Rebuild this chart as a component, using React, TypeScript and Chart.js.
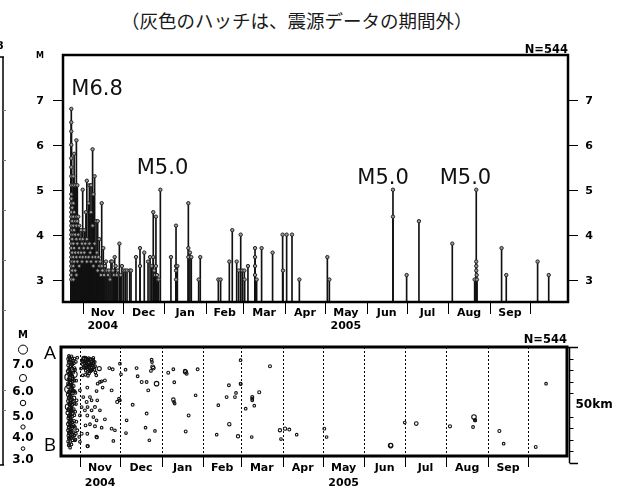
import React, { useEffect, useRef } from 'react';
import { Chart, registerables } from 'chart.js';

Chart.register(...registerables);

// ---------------- data ----------------
// Time is counted in days from 2004-10-23 (day 0, the M6.8 main shock).
const monthStartDays = [9, 39, 70, 101, 129, 160, 190, 221, 251, 282, 313, 343];
const monthLabels = ['Nov', 'Dec', 'Jan', 'Feb', 'Mar', 'Apr', 'May', 'Jun', 'Jul', 'Aug', 'Sep'];
const yearLabels = ['2004', '2005'];
const yearLabelMonthIndex = [0, 6];
const magTicks = [3, 4, 5, 6, 7];
const legendMags = [7, 6, 5, 4, 3];
const legendLabels = ['7.0', '6.0', '5.0', '4.0', '3.0'];
const kmTicks = [0, 5, 10, 15, 20, 25, 30, 35, 40, 45, 50];
const eventCount = 544;
const titleText = '（灰色のハッチは、震源データの期間外）';

const annotationTexts = ['M6.8', 'M5.0', 'M5.0', 'M5.0'];
const annotationDays = [19.7, 68.6, 233.3, 294.8];
const annotationMags = [7.12, 5.35, 5.13, 5.13];

// M-T diagram events [day, magnitude]
const mtFirstWeeks: number[][] = [
  [0.5, 6.8], [0.5, 6.5], [0.5, 6.3], [0.5, 6.0], [0.5, 5.7], [0.5, 5.5], [0.5, 5.3], [0.5, 5.1], [0.5, 4.9], [0.5, 4.8],
  [0.5, 4.7], [0.5, 4.6], [0.5, 4.5], [0.5, 4.4], [0.5, 4.3], [0.5, 4.2], [0.5, 4.1], [0.5, 4.0], [0.5, 3.9], [0.5, 3.8],
  [0.5, 3.7], [0.5, 3.6], [0.5, 3.5], [0.5, 3.4], [0.5, 3.3], [0.5, 3.2], [0.5, 3.1], [0.5, 3.0],
  [1.2, 4.6], [1.2, 4.3], [1.2, 4.1], [1.2, 3.9], [1.2, 3.6], [1.2, 3.4], [1.2, 3.2],
  [2.0, 5.3], [2.0, 5.1], [2.0, 4.7], [2.0, 4.4], [2.0, 4.2], [2.0, 4.0], [2.0, 3.8], [2.0, 3.5], [2.0, 3.3], [2.0, 3.0],
  [2.6, 5.8], [2.6, 4.5], [2.6, 4.1], [2.6, 3.7], [2.6, 3.4],
  [3.4, 5.1], [3.4, 4.3], [3.4, 4.0], [3.4, 3.6], [3.4, 3.2],
  [4.3, 6.1], [4.3, 4.4], [4.3, 4.2], [4.3, 3.9], [4.3, 3.5], [4.3, 3.1],
  [5.0, 5.1], [5.0, 4.3], [5.0, 3.8], [5.0, 3.4],
  [5.7, 4.4], [5.7, 4.0], [5.7, 3.6],
  [6.4, 4.2], [6.4, 3.7], [6.4, 3.3],
  [7.1, 3.9], [7.1, 3.5], [7.8, 4.1], [7.8, 3.6], [8.5, 3.8], [8.5, 3.4],
  [9.0, 5.0], [9.0, 3.9], [9.0, 3.5], [9.7, 3.7], [10.2, 4.1], [10.2, 3.6], [10.9, 3.8],
  [11.4, 4.5], [11.4, 3.5], [12.1, 5.2], [12.1, 3.9], [12.1, 3.4], [12.8, 3.7],
  [13.4, 4.7], [13.4, 3.5], [14.0, 5.1], [14.0, 3.8], [14.6, 3.6],
  [15.2, 5.1], [15.2, 4.5], [15.2, 3.4], [15.8, 3.7],
  [16.4, 5.9], [16.4, 4.2], [16.4, 3.5], [17.0, 4.9], [17.0, 3.3],
  [17.9, 5.3], [17.9, 3.8], [18.5, 3.5], [19.0, 4.3], [19.0, 3.4], [19.6, 3.6],
  [20.2, 4.3], [20.2, 3.2], [20.8, 3.5], [21.4, 3.9], [21.4, 3.3], [22.0, 3.4], [22.6, 3.1],
  [23.2, 4.7], [23.2, 3.3], [23.8, 3.2], [24.4, 3.7], [25.0, 3.1], [25.7, 3.3], [26.4, 3.4],
  [27.1, 3.2], [27.9, 3.1], [28.6, 3.2], [29.4, 3.0], [30.1, 3.4], [30.9, 3.4], [31.6, 3.2],
  [32.3, 3.1], [32.9, 3.5], [33.6, 3.3], [34.4, 3.1], [35.2, 3.2], [36.4, 3.8], [37.4, 3.1],
  [38.3, 3.3], [39.6, 3.2], [40.8, 3.2], [42.1, 3.2], [44.1, 3.2], [45.1, 3.2],
];

const mtWinter: number[][] = [
  [48.8, 3.5], [51.8, 3.7], [51.8, 3.3], [55.0, 3.6], [57.8, 3.4], [59.3, 3.5], [60.5, 3.3],
  [61.7, 4.5], [61.7, 3.5], [62.4, 3.2], [63.0, 3.1], [63.7, 4.4], [63.7, 3.3], [64.5, 3.1],
  [65.2, 3.0], [65.7, 3.0], [67.0, 5.0], [74.9, 3.5], [78.7, 4.2], [78.7, 3.3], [78.7, 3.2],
  [78.7, 3.0], [79.7, 3.3], [87.9, 4.7], [87.9, 3.7], [87.9, 3.5], [89.1, 3.6], [90.1, 3.5],
  [95.6, 3.0], [96.8, 3.5], [110.3, 3.0], [112.0, 3.0], [118.5, 3.4], [120.7, 4.1], [124.0, 3.4],
  [125.5, 3.2], [127.0, 4.0], [128.2, 3.2], [129.7, 3.2], [129.9, 3.0], [132.4, 3.3],
  [137.7, 3.7], [137.7, 3.5], [137.7, 3.3], [137.7, 3.1], [138.9, 3.0], [142.6, 3.7],
  [150.8, 3.6], [158.3, 4.0], [158.6, 3.2], [161.3, 4.0], [165.3, 4.0], [170.8, 3.0],
];

const mtSummer: number[][] = [
  [191.7, 3.5], [193.2, 3.0], [240.7, 5.0], [240.7, 4.4], [250.9, 3.1], [260.1, 4.3],
  [285.0, 3.8], [301.7, 3.0], [302.9, 5.0], [302.9, 3.4], [302.9, 3.3], [302.9, 3.2],
  [303.2, 3.1], [303.4, 3.0], [321.8, 3.7], [325.3, 3.1], [348.7, 3.4], [357.0, 3.1],
];

// Space-time events [day, distance from B (km), magnitude]
const stFirstDays: number[][] = [
  [0.2, 44.8, 3.4], [0.3, 42.1, 3.7], [0.1, 39.6, 4.1], [0.4, 37.0, 6.5], [0.2, 34.3, 3.5],
  [0.5, 31.8, 6.8], [0.3, 29.4, 4.4], [0.1, 26.7, 3.6], [0.4, 24.2, 6.0], [0.2, 21.6, 4.8],
  [0.5, 19.3, 3.9], [0.3, 16.8, 4.2], [0.1, 14.1, 3.3], [0.4, 11.7, 3.5], [0.2, 9.3, 3.2],
  [1.1, 45.6, 3.2], [1.3, 43.2, 3.9], [1.0, 40.8, 3.4], [1.4, 38.3, 4.6], [1.2, 35.7, 3.8],
  [1.0, 33.1, 5.3], [1.3, 30.6, 3.6], [1.1, 28.2, 4.0], [1.4, 25.5, 3.4], [1.2, 23.1, 5.1],
  [1.0, 20.4, 3.7], [1.3, 18.1, 3.5], [1.1, 15.6, 4.3], [1.4, 13.0, 3.3], [1.2, 10.4, 3.6], [1.0, 8.2, 3.1],
  [2.1, 44.3, 3.5], [2.3, 41.9, 4.2], [2.0, 39.3, 3.3], [2.4, 36.8, 5.8], [2.2, 34.6, 3.7],
  [2.1, 32.0, 4.5], [2.3, 29.7, 3.4], [2.0, 27.1, 3.9], [2.4, 24.6, 3.3], [2.2, 22.2, 4.1],
  [2.1, 19.6, 3.6], [2.3, 17.0, 3.2], [2.0, 14.6, 3.8], [2.2, 12.1, 3.4],
  [3.2, 45.1, 3.3], [3.4, 42.6, 3.6], [3.1, 40.1, 5.1], [3.3, 37.4, 3.4], [3.5, 35.0, 3.9],
  [3.2, 32.4, 3.5], [3.4, 30.1, 4.3], [3.1, 27.6, 3.3], [3.3, 25.0, 3.7], [3.5, 22.4, 3.4],
  [3.2, 20.0, 3.6], [3.4, 17.6, 3.3], [3.1, 15.0, 3.5], [3.3, 12.4, 3.2], [3.5, 9.8, 3.4],
  [4.4, 43.0, 3.5], [4.6, 38.2, 6.1], [4.3, 33.2, 3.6], [4.5, 28.0, 4.4], [4.4, 23.2, 3.3],
  [4.6, 18.1, 3.8], [4.3, 13.3, 3.4],
  [5.4, 40.2, 3.3], [5.6, 30.3, 3.5], [5.5, 22.1, 3.2], [5.3, 15.2, 3.6], [5.7, 10.1, 3.1],
  [0.6, 7.6, 3.2], [1.7, 6.6, 3.0], [2.7, 8.0, 3.3], [0.8, 46.2, 3.1], [2.8, 46.0, 3.0],
];

const stFirstDaysMore: number[][] = [
  [0.7, 43.5, 3.6], [0.8, 40.2, 3.3], [0.6, 36.1, 3.8], [0.9, 33.8, 3.4], [0.7, 30.5, 4.0],
  [0.6, 27.9, 3.5], [0.9, 25.3, 3.3], [0.8, 22.8, 3.9], [0.7, 20.1, 3.4], [0.9, 17.5, 3.6],
  [0.6, 15.3, 3.3], [0.8, 12.9, 3.7], [0.7, 10.6, 3.2],
  [1.6, 44.7, 3.4], [1.8, 41.4, 3.6], [1.5, 37.6, 3.3], [1.7, 34.9, 4.2], [1.9, 31.4, 3.5],
  [1.6, 29.0, 3.7], [1.8, 26.2, 3.3], [1.5, 23.8, 3.6], [1.7, 21.1, 3.4], [1.9, 18.8, 3.9],
  [1.6, 16.3, 3.2], [1.8, 13.7, 3.5], [1.5, 11.2, 3.3], [1.7, 9.0, 3.4],
  [2.6, 43.4, 3.3], [2.8, 40.7, 3.7], [2.5, 38.0, 3.4], [2.7, 33.4, 3.5], [2.9, 31.0, 3.3],
  [2.6, 26.0, 3.6], [2.8, 23.5, 3.2], [2.5, 18.4, 3.4], [2.7, 15.8, 3.3], [2.9, 13.4, 3.5], [2.6, 10.8, 3.2],
  [3.8, 44.0, 3.2], [3.9, 39.0, 3.5], [3.7, 36.2, 3.3], [3.9, 31.2, 3.6], [3.8, 26.4, 3.4],
  [3.7, 21.2, 3.3], [3.9, 16.4, 3.5], [3.8, 11.4, 3.2],
  [4.9, 45.0, 3.1], [5.0, 40.9, 3.4], [4.8, 35.6, 3.3], [5.0, 30.9, 3.5], [4.9, 25.7, 3.2],
  [4.8, 20.6, 3.4], [5.0, 15.9, 3.3], [4.9, 11.8, 3.2],
  [6.0, 43.6, 3.2], [6.2, 35.5, 3.3], [6.1, 25.4, 3.1], [6.3, 17.8, 3.4], [6.0, 12.6, 3.2],
];

const stNovemberCluster: number[][] = [
  [10.5, 44.0, 3.2], [11.2, 42.5, 3.4], [11.8, 45.0, 3.1], [12.5, 41.0, 3.6], [12.9, 43.6, 3.3],
  [13.4, 39.8, 3.2], [13.9, 44.6, 5.1], [14.3, 42.2, 3.5], [14.8, 40.6, 3.8], [15.2, 43.0, 5.1],
  [15.6, 45.2, 3.2], [16.0, 41.5, 3.4], [16.4, 43.8, 5.9], [16.9, 39.5, 3.3], [17.3, 42.6, 3.6],
  [17.9, 44.2, 5.3], [18.3, 40.4, 3.2], [18.8, 42.9, 3.4], [19.4, 41.3, 3.1], [20.0, 43.5, 3.5],
  [20.6, 39.0, 3.3], [21.2, 37.8, 3.2], [13.0, 38.0, 3.1], [15.8, 38.6, 3.1], [19.0, 45.3, 3.3],
  [12.1, 44.9, 5.2], [14.0, 41.2, 3.3], [17.0, 41.0, 4.9], [15.0, 44.5, 3.3], [16.8, 44.8, 3.2],
  [11.0, 43.9, 3.3], [11.6, 41.2, 3.2], [12.3, 42.9, 3.4], [13.1, 45.4, 3.2], [13.6, 42.0, 3.3],
  [14.2, 43.8, 3.6], [14.6, 39.2, 3.2], [15.4, 41.8, 3.4], [16.2, 42.4, 3.3], [16.6, 40.1, 3.2],
  [17.5, 43.4, 3.4], [17.7, 39.9, 3.1], [18.1, 41.9, 3.3], [18.6, 44.5, 3.2], [19.2, 43.1, 3.5],
  [19.8, 40.2, 3.2], [20.3, 41.7, 3.3], [15.0, 37.6, 3.2],
];

const stNovemberScatter: number[][] = [
  [7.0, 45.4, 3.1], [9.8, 40.7, 3.3], [11.0, 37.8, 3.2], [14.5, 32.5, 3.4], [23.4, 40.7, 4.7],
  [23.9, 34.9, 3.3], [25.2, 35.2, 3.2], [27.6, 35.6, 3.4], [22.2, 34.2, 3.3], [25.9, 32.5, 3.2],
  [32.6, 31.3, 3.5], [21.4, 31.0, 3.3], [16.5, 28.4, 3.4], [17.7, 27.0, 3.2], [14.0, 26.3, 3.5],
  [14.7, 24.1, 3.3], [20.2, 24.1, 3.6], [21.9, 27.0, 3.2], [12.7, 22.7, 3.4], [17.7, 22.7, 3.3],
  [23.9, 22.7, 3.2], [14.5, 20.5, 3.5], [19.0, 19.8, 3.3], [21.4, 18.4, 3.2], [27.6, 18.8, 3.4],
  [16.5, 16.7, 3.3], [20.2, 15.8, 3.6], [25.2, 15.2, 3.2], [32.6, 14.8, 3.4], [35.1, 14.1, 3.1],
  [10.3, 12.6, 3.5], [14.5, 12.6, 3.4], [21.4, 11.2, 3.9], [21.6, 11.0, 3.2], [14.7, 7.3, 3.8],
  [14.8, 7.2, 3.3], [33.9, 9.5, 3.1], [30.9, 40.9, 3.4], [33.4, 40.4, 3.5], [38.1, 27.7, 3.3],
  [36.8, 26.3, 3.8], [38.8, 27.0, 3.2], [9.0, 20.5, 3.3], [10.3, 24.1, 3.2], [6.5, 27.0, 3.4],
  [9.0, 31.3, 3.3], [11.5, 28.4, 3.2], [13.2, 16.2, 3.3], [7.0, 14.1, 3.5], [8.5, 11.2, 3.2],
  [5.3, 9.8, 3.4], [9.0, 9.1, 3.1], [38.8, 42.8, 3.1], [39.6, 38.2, 3.2],
];

const stWinter: number[][] = [
  [43.0, 40.2, 3.2], [51.2, 40.9, 3.5], [52.0, 37.4, 3.3], [55.0, 34.9, 3.6], [58.7, 34.9, 3.4],
  [59.9, 31.3, 3.5], [62.4, 44.5, 3.3], [62.7, 43.5, 3.1], [63.2, 41.4, 4.5], [61.9, 39.7, 3.3],
  [63.7, 40.9, 4.4], [66.1, 34.2, 5.0], [48.3, 25.1, 3.5], [43.8, 18.4, 3.2], [43.3, 12.9, 3.2],
  [58.7, 21.3, 3.4], [57.9, 15.2, 3.2], [64.9, 13.8, 3.1], [60.7, 9.8, 3.0],
  [74.8, 38.9, 3.5], [78.6, 40.4, 3.3], [79.3, 34.8, 3.2], [87.3, 39.7, 3.7], [88.5, 38.5, 3.6],
  [87.6, 39.3, 4.7], [96.7, 40.4, 3.5], [78.6, 27.3, 4.2], [79.1, 26.3, 3.3], [79.6, 25.6, 3.0],
  [90.0, 20.5, 3.5], [95.2, 29.2, 3.0], [87.8, 13.6, 3.5],
  [120.0, 33.5, 3.4], [118.3, 28.4, 3.4], [112.1, 24.9, 3.0], [124.5, 28.4, 3.4], [125.3, 30.2, 3.2],
  [120.3, 16.7, 4.1], [110.9, 12.2, 3.0], [126.8, 11.5, 4.0],
  [128.7, 44.3, 3.2], [128.7, 34.2, 3.3], [128.8, 34.0, 3.2], [137.4, 28.4, 3.7], [137.4, 27.7, 3.5],
  [137.4, 27.0, 3.3], [142.6, 30.5, 3.7], [138.9, 24.7, 3.1], [132.5, 23.4, 3.3], [150.6, 41.7, 3.6],
  [137.0, 11.2, 3.0],
  [158.0, 14.1, 4.0], [161.8, 14.8, 4.0], [165.0, 14.4, 3.6], [170.5, 12.2, 3.0], [158.8, 10.3, 3.2],
];

const stSummer: number[][] = [
  [191.1, 14.8, 3.5], [192.8, 11.2, 3.0], [240.5, 7.5, 5.0], [240.6, 7.6, 4.4], [251.0, 17.4, 3.1],
  [259.6, 17.0, 4.3], [284.7, 15.8, 3.8], [301.9, 15.5, 3.4], [302.6, 19.8, 5.0], [303.4, 18.4, 3.3],
  [303.3, 18.6, 3.2], [303.5, 18.3, 3.0], [321.5, 13.8, 3.7], [324.7, 8.3, 3.1], [348.6, 6.9, 3.4],
  [356.3, 34.2, 3.1],
];

// ---------------- helpers ----------------
const mtEvents = [...mtFirstWeeks, ...mtWinter, ...mtSummer];
const stEvents = [
  ...stFirstDays, ...stFirstDaysMore, ...stNovemberCluster, ...stNovemberScatter, ...stWinter, ...stSummer,
];

const radiusForMag = (m: number) => 1.3 + 0.34 * Math.pow(Math.max(m - 3, 0), 1.5);

const BOLD = '"DejaVu Sans", sans-serif';

function drawMonthAxis(ctx: CanvasRenderingContext2D, xs: any, y0: number, tickLen: number, labelDy: number, yearDy: number) {
  ctx.save();
  ctx.lineWidth = 1;
  ctx.strokeStyle = '#000';
  ctx.setLineDash([]);
  ctx.beginPath();
  monthStartDays.forEach((d) => {
    const px = Math.round(xs.getPixelForValue(d)) + 0.5;
    ctx.moveTo(px, y0);
    ctx.lineTo(px, y0 + tickLen);
  });
  ctx.stroke();
  ctx.fillStyle = '#000';
  ctx.font = `bold 11px ${BOLD}`;
  ctx.textAlign = 'center';
  ctx.textBaseline = 'middle';
  const mid = (i: number) => (xs.getPixelForValue(monthStartDays[i]) + xs.getPixelForValue(monthStartDays[i + 1])) / 2;
  for (let i = 0; i < monthLabels.length; i++) {
    ctx.fillText(monthLabels[i], mid(i), y0 + labelDy);
  }
  for (let i = 0; i < yearLabels.length; i++) {
    ctx.fillText(yearLabels[i], mid(yearLabelMonthIndex[i]), y0 + yearDy);
  }
  ctx.restore();
}

const mtFrame = {
  id: 'mtFrame',
  afterDraw(chart: any) {
    const { ctx, chartArea: a } = chart;
    const xs = chart.scales.x;
    const ys = chart.scales.y;
    ctx.save();
    ctx.strokeStyle = '#000';
    ctx.fillStyle = '#000';
    ctx.lineWidth = 2.5;
    ctx.strokeRect(a.left, a.top, a.right - a.left, a.bottom - a.top);

    ctx.lineWidth = 1;
    ctx.font = `bold 11px ${BOLD}`;
    ctx.textAlign = 'center';
    ctx.textBaseline = 'middle';
    magTicks.forEach((v) => {
      const py = Math.round(ys.getPixelForValue(v)) + 0.5;
      ctx.beginPath();
      ctx.moveTo(a.left - 10, py);
      ctx.lineTo(a.left - 1, py);
      ctx.moveTo(a.right + 1, py);
      ctx.lineTo(a.right + 10, py);
      ctx.stroke();
      ctx.fillText(String(v), a.left - 23, py + 1);
      ctx.fillText(String(v), a.right + 21, py + 1);
    });
    ctx.font = `bold 8px ${BOLD}`;
    ctx.fillText('M', a.left - 23, a.top + 1);

    ctx.font = `bold 11.5px ${BOLD}`;
    ctx.textAlign = 'right';
    ctx.textBaseline = 'alphabetic';
    ctx.fillText('N=' + eventCount, a.right, a.top - 2);

    drawMonthAxis(ctx, xs, a.bottom, 12, 11, 24);

    // annotations
    ctx.font = '21px "DejaVu Sans", sans-serif';
    ctx.fillStyle = '#111';
    ctx.textAlign = 'center';
    ctx.textBaseline = 'alphabetic';
    annotationTexts.forEach((t, i) => {
      ctx.fillText(t, xs.getPixelForValue(annotationDays[i]), ys.getPixelForValue(annotationMags[i]));
    });

    // edge of the neighbouring panel (cropped at the left border)
    ctx.strokeStyle = '#000';
    ctx.lineWidth = 1.5;
    ctx.beginPath();
    ctx.moveTo(3, 57);
    ctx.lineTo(3, 465);
    ctx.moveTo(0, 57);
    ctx.lineTo(4, 57);
    ctx.moveTo(0, 465);
    ctx.lineTo(4, 465);
    ctx.stroke();
    ctx.lineWidth = 1;
    ctx.strokeStyle = '#777';
    ctx.beginPath();
    [110, 160, 210, 260, 310, 390, 410].forEach((py) => {
      ctx.moveTo(3, py + 0.5);
      ctx.lineTo(6, py + 0.5);
    });
    ctx.stroke();
    ctx.fillStyle = '#000';
    ctx.font = `bold 11px ${BOLD}`;
    ctx.textAlign = 'left';
    ctx.textBaseline = 'middle';
    ctx.fillText('8', -4, 46);
    ctx.restore();
  },
};

const stFrame = {
  id: 'stFrame',
  beforeDatasetsDraw(chart: any) {
    const { ctx, chartArea: a } = chart;
    const xs = chart.scales.x;
    ctx.save();
    ctx.strokeStyle = '#000';
    ctx.lineWidth = 1;
    ctx.setLineDash([2, 2]);
    ctx.beginPath();
    monthStartDays.forEach((d) => {
      const px = Math.round(xs.getPixelForValue(d)) + 0.5;
      ctx.moveTo(px, a.top);
      ctx.lineTo(px, a.bottom);
    });
    ctx.stroke();
    ctx.restore();
  },
  afterDraw(chart: any) {
    const { ctx, chartArea: a } = chart;
    const xs = chart.scales.x;
    const ys = chart.scales.y;
    ctx.save();
    ctx.strokeStyle = '#000';
    ctx.fillStyle = '#000';
    ctx.lineWidth = 3;
    ctx.strokeRect(a.left, a.top, a.right - a.left, a.bottom - a.top);

    drawMonthAxis(ctx, xs, a.bottom, 11, 12, 27);

    ctx.font = `bold 11.5px ${BOLD}`;
    ctx.textAlign = 'right';
    ctx.textBaseline = 'alphabetic';
    ctx.fillText('N=' + eventCount, a.right, a.top - 4);

    // A / B ends of the cross-section
    ctx.font = '19px "Open Sans", sans-serif';
    ctx.textAlign = 'center';
    ctx.textBaseline = 'middle';
    ctx.fillText('A', a.left - 11, a.top + 7);
    ctx.fillText('B', a.left - 11, a.bottom - 10);

    // magnitude legend
    const lx = a.left - 38;
    const circleDy = [2.6, 31, 56, 80, 101.6];
    const labelDy = [17.5, 45, 70, 90.6, 113.3];
    ctx.font = `bold 10px ${BOLD}`;
    ctx.fillText('M', lx, a.top - 12);
    ctx.font = `bold 12px ${BOLD}`;
    ctx.lineWidth = 1;
    legendMags.forEach((m, i) => {
      ctx.beginPath();
      ctx.arc(lx, a.top + circleDy[i], radiusForMag(m) + 0.5, 0, Math.PI * 2);
      ctx.stroke();
      ctx.fillText(legendLabels[i], lx, a.top + labelDy[i]);
    });

    // 50 km distance bar
    const kx = a.right + 2.5;
    const yTop = ys.getPixelForValue(kmTicks[kmTicks.length - 1]);
    const yBot = ys.getPixelForValue(kmTicks[0]);
    ctx.lineWidth = 1.5;
    ctx.beginPath();
    ctx.moveTo(kx, yTop);
    ctx.lineTo(kx, yBot);
    ctx.moveTo(a.right, Math.round(yTop) + 0.5);
    ctx.lineTo(a.right + 11, Math.round(yTop) + 0.5);
    ctx.moveTo(kx, Math.round(yBot) + 0.5);
    ctx.lineTo(a.right + 11, Math.round(yBot) + 0.5);
    ctx.stroke();
    ctx.lineWidth = 1;
    ctx.beginPath();
    kmTicks.slice(1, -1).forEach((k) => {
      if (k === 25) return;
      const py = Math.round(ys.getPixelForValue(k)) + 0.5;
      ctx.moveTo(kx, py);
      ctx.lineTo(kx + 4, py);
    });
    ctx.stroke();
    ctx.font = `bold 12px ${BOLD}`;
    ctx.textAlign = 'left';
    ctx.fillText('50km', kx + 6, ys.getPixelForValue(25));
    ctx.restore();
  },
};

export default function App() {
  const topRef = useRef<HTMLCanvasElement>(null);
  const botRef = useRef<HTMLCanvasElement>(null);

  useEffect(() => {
    const mtPoints = mtEvents.map(([d, m]) => ({ x: d, y: m }));
    const mtStemPoints = mtEvents.map(([d, m]) => ({ x: d, y: m }));
    const top = new Chart(topRef.current as HTMLCanvasElement, {
      type: 'bar',
      data: {
        datasets: [
          {
            type: 'scatter',
            label: 'event',
            data: mtPoints,
            pointRadius: 1.7,
            pointBackgroundColor: '#9a9a9a',
            pointBorderColor: '#222',
            pointBorderWidth: 1,
            showLine: false,
            order: 1,
          } as any,
          {
            type: 'bar',
            label: 'stem',
            data: mtStemPoints,
            barThickness: 1,
            backgroundColor: '#111',
            borderWidth: 0,
            order: 2,
          } as any,
        ],
      },
      options: {
        responsive: false,
        animation: false,
        events: [],
        layout: { padding: { left: 63, right: 57, top: 55, bottom: 192 } },
        plugins: { legend: { display: false }, tooltip: { enabled: false }, title: { display: false } },
        scales: {
          x: { type: 'linear', min: -5.7, max: 371.4, display: false, offset: false },
          y: { type: 'linear', min: 2.5, max: 8.0, display: false },
        },
      },
      plugins: [mtFrame],
    });

    const bot = new Chart(botRef.current as HTMLCanvasElement, {
      type: 'scatter',
      data: {
        datasets: [
          {
            label: 'space-time',
            data: stEvents.map(([d, k]) => ({ x: d, y: k })),
            pointRadius: stEvents.map(([, , m]) => radiusForMag(m)),
            pointBackgroundColor: 'rgba(255,255,255,0)',
            pointBorderColor: '#111',
            pointBorderWidth: 1.1,
            showLine: false,
          },
        ],
      },
      options: {
        responsive: false,
        animation: false,
        events: [],
        layout: { padding: { left: 61, right: 58, top: 347, bottom: 38 } },
        plugins: { legend: { display: false }, tooltip: { enabled: false } },
        scales: {
          x: { type: 'linear', min: -5.1, max: 371.9, display: false },
          y: { type: 'linear', min: 3, max: 50, display: false },
        },
      },
      plugins: [stFrame],
    });

    return () => {
      top.destroy();
      bot.destroy();
    };
  }, []);

  return (
    <div style={{ position: 'fixed', left: 0, top: 0, width: 625, height: 494, background: '#fff', overflow: 'hidden' }}>
      <div
        style={{
          position: 'absolute',
          left: 121,
          top: 8,
          whiteSpace: 'nowrap',
          font: '18.5px "Noto Sans CJK JP", sans-serif',
          lineHeight: '24px',
          color: '#1a1a1a',
        }}
      >
        {titleText}
      </div>
      <canvas ref={topRef} width={625} height={494} style={{ position: 'absolute', left: 0, top: 0 }} />
      <canvas ref={botRef} width={625} height={494} style={{ position: 'absolute', left: 0, top: 0 }} />
    </div>
  );
}
